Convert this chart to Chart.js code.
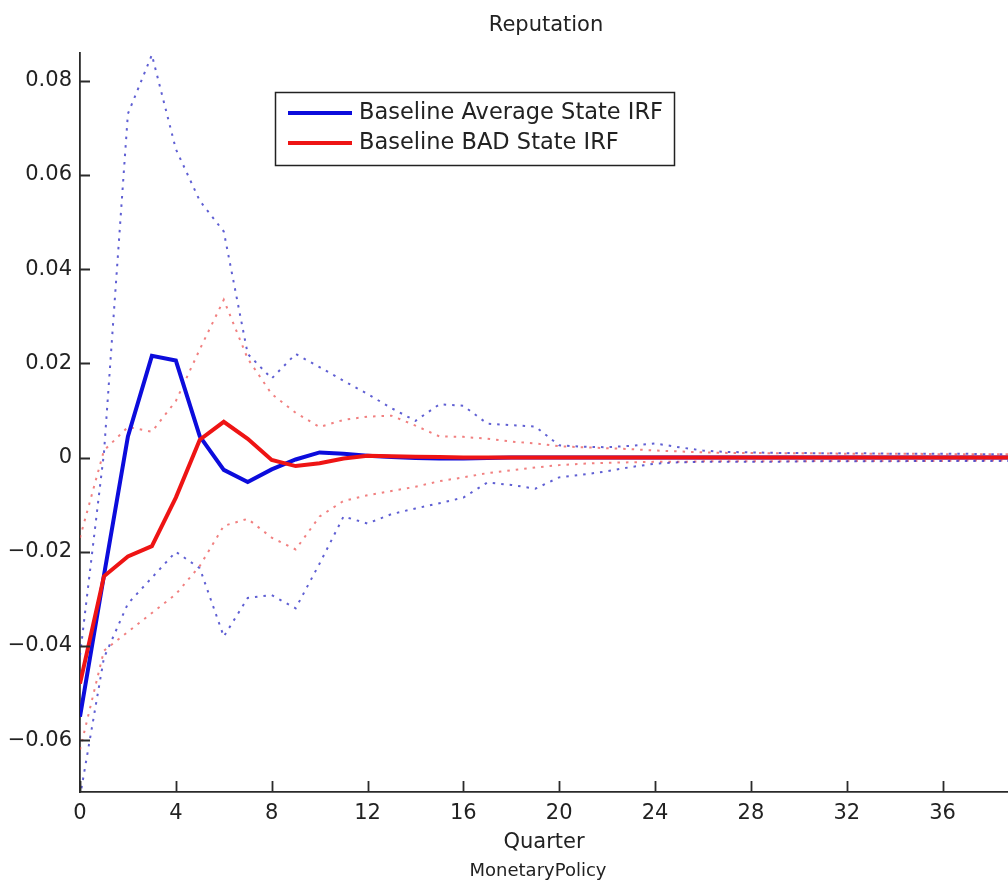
<!DOCTYPE html>
<html>
<head>
<meta charset="utf-8">
<title>Reputation</title>
<script src="https://cdn.jsdelivr.net/npm/chart.js@4.4.0/dist/chart.umd.min.js"></script>
<style>
  html, body { margin: 0; padding: 0; background: #fff; overflow: hidden; }
  #contenedor { position: relative; width: 1008px; height: 883px; }
</style>
</head>
<body>
<div id="contenedor"><canvas id="irfChart"></canvas></div>
<script>
// datos (trimestres 0..40)
var quarters = [0,1,2,3,4,5,6,7,8,9,10,11,12,13,14,15,16,17,18,19,20,
                21,22,23,24,25,26,27,28,29,30,31,32,33,34,35,36,37,38,39,40];

var avgIRF = [-0.055,-0.025,0.0045,0.0216,0.0206,0.0045,-0.0026,-0.0052,-0.0025,-0.0004,
              0.0011,0.0008,0.0004,0.0001,-0.0001,-0.0002,-0.0002,-0.0001,0,0,
              0,0,0,0,0,0,0,0,0,0,0,0,0,0,0,0,0,0,0,0,0];

var badIRF = [-0.048,-0.0252,-0.021,-0.0188,-0.0085,0.0038,0.0076,0.004,-0.0005,-0.0018,
              -0.0012,-0.0002,0.0004,0.0003,0.0002,0.0001,0,0,0,0,
              0,0,0,0,0,0,0,0,0,0,0,0,0,0,0,0,0,0,0,0,0];

var avgUpper = [-0.042,0.001,0.073,0.0855,0.0655,0.0545,0.048,0.022,0.0168,0.022,
                0.0192,0.0163,0.0135,0.0105,0.0078,0.0113,0.011,0.0072,0.0069,0.0066,
                0.0026,0.0023,0.0022,0.0025,0.003,0.0022,0.0015,0.0012,0.0011,0.001,
                0.001,0.0009,0.0009,0.0009,0.0008,0.0008,0.0008,0.0008,0.0007,0.0007,0.0007];

var avgLower = [-0.072,-0.0425,-0.031,-0.0255,-0.020,-0.0235,-0.038,-0.0298,-0.0292,-0.032,
                -0.0225,-0.0125,-0.014,-0.012,-0.0108,-0.0097,-0.0085,-0.0053,-0.0058,-0.0066,
                -0.0042,-0.0036,-0.0029,-0.002,-0.0013,-0.001,-0.0009,-0.0009,-0.0009,-0.0009,
                -0.0008,-0.0008,-0.0008,-0.0008,-0.0008,-0.0007,-0.0007,-0.0007,-0.0007,-0.0007,-0.0007];

var badUpper = [-0.017,0.0015,0.0065,0.0055,0.012,0.023,0.0335,0.021,0.0135,0.0095,
                0.0065,0.008,0.0087,0.0089,0.0068,0.0045,0.0044,0.004,0.0034,0.003,
                0.0024,0.0022,0.002,0.0018,0.0015,0.0013,0.0011,0.001,0.001,0.0009,
                0.0009,0.0009,0.0008,0.0008,0.0008,0.0008,0.0007,0.0007,0.0007,0.0007,0.0007];

var badLower = [-0.062,-0.041,-0.037,-0.033,-0.029,-0.023,-0.0145,-0.013,-0.017,-0.0195,
                -0.0125,-0.0092,-0.008,-0.0071,-0.0062,-0.005,-0.0042,-0.0033,-0.0027,-0.0021,
                -0.0016,-0.0013,-0.0011,-0.001,-0.0009,-0.0009,-0.0008,-0.0008,-0.0008,-0.0008,
                -0.0008,-0.0007,-0.0007,-0.0007,-0.0007,-0.0007,-0.0007,-0.0006,-0.0006,-0.0006,-0.0006];

var xTickValues = [0,4,8,12,16,20,24,28,32,36];
var yTickValues = [-0.06,-0.04,-0.02,0,0.02,0.04,0.06,0.08];

var tituloGrafica = 'Reputation';
var tituloEjeX = 'Quarter';
var subtituloGrafica = 'MonetaryPolicy';
var etiquetaAvg = 'Baseline Average State IRF';
var etiquetaBad = 'Baseline BAD State IRF';

var fuente = '"DejaVu Sans", sans-serif';
var colorTexto = '#222222';
var colorEjes = '#2a2a2a';
var azul = 'rgb(12,12,220)';
var rojo = 'rgb(238,20,20)';
var azulPunteado = 'rgba(55,55,200,0.8)';
var rojoPunteado = 'rgba(236,85,85,0.75)';

var ctx;
var myChart;

function serie(valores){
  return quarters.map(function(q, i){ return {x: q, y: valores[i]}; });
}

// ticks hacia adentro, titulo, subtitulo y leyenda estilo matlab
var pluginTextos = {
  id: 'textos',
  afterDraw: function(chart){
    var c = chart.ctx;
    var area = chart.chartArea;
    var xs = chart.scales.x;
    var ys = chart.scales.y;
    c.save();

    c.strokeStyle = colorEjes;
    c.lineWidth = 1.8;
    c.beginPath();
    ys.ticks.forEach(function(t){
      var py = Math.round(ys.getPixelForValue(t.value)) + 0.5;
      c.moveTo(area.left, py);
      c.lineTo(area.left + 10, py);
    });
    xs.ticks.forEach(function(t){
      var px = Math.round(xs.getPixelForValue(t.value)) + 0.5;
      c.moveTo(px, area.bottom);
      c.lineTo(px, area.bottom - 11);
    });
    c.stroke();

    var cx = (area.left + area.right) / 2;
    c.fillStyle = colorTexto;
    c.textAlign = 'center';
    c.textBaseline = 'middle';
    c.font = '21px ' + fuente;
    c.fillText(tituloGrafica, cx + 2, 26);
    c.font = '18px ' + fuente;
    c.fillText(subtituloGrafica, cx - 6, 871);

    // leyenda
    c.fillStyle = '#ffffff';
    c.fillRect(275, 92, 399, 73);
    c.strokeStyle = '#222222';
    c.lineWidth = 1.5;
    c.strokeRect(275.5, 92.5, 399, 73);
    var filas = [chart.data.datasets[1], chart.data.datasets[0]];
    var ys2 = [113, 143];
    c.textAlign = 'left';
    c.font = '22.5px ' + fuente;
    filas.forEach(function(ds, i){
      c.strokeStyle = ds.borderColor;
      c.lineWidth = 4;
      c.beginPath();
      c.moveTo(288, ys2[i]);
      c.lineTo(352, ys2[i]);
      c.stroke();
      c.fillStyle = colorTexto;
      c.fillText(ds.label, 359, ys2[i]);
    });
    c.restore();
  }
};

function graficar(){
  var bandas = {
    borderWidth: 2,
    borderDash: [2.5, 6],
    pointRadius: 0
  };

  var lineData = {
    datasets: [
      { label: etiquetaBad, data: serie(badIRF), borderColor: rojo, borderWidth: 4, pointRadius: 0, order: 0 },
      { label: etiquetaAvg, data: serie(avgIRF), borderColor: azul, borderWidth: 4, pointRadius: 0, order: 1 },
      Object.assign({ label: 'avg upper', data: serie(avgUpper), borderColor: azulPunteado, order: 2 }, bandas),
      Object.assign({ label: 'avg lower', data: serie(avgLower), borderColor: azulPunteado, order: 2 }, bandas),
      Object.assign({ label: 'bad upper', data: serie(badUpper), borderColor: rojoPunteado, order: 3 }, bandas),
      Object.assign({ label: 'bad lower', data: serie(badLower), borderColor: rojoPunteado, order: 3 }, bandas)
    ]
  };

  var lineOptions = {
    responsive: true,
    maintainAspectRatio: false,
    animation: false,
    layout: { padding: { top: 53, left: 0, right: 0, bottom: 0 } },
    plugins: {
      legend: { display: false },
      title: { display: false },
      tooltip: { enabled: false }
    },
    elements: { line: { tension: 0, fill: false } },
    scales: {
      x: {
        type: 'linear',
        min: 0,
        max: 38.73,
        grid: { display: false, drawTicks: false },
        border: { display: true, color: colorEjes, width: 1.8 },
        ticks: {
          color: colorTexto,
          font: { family: fuente, size: 21 },
          padding: 9,
          maxRotation: 0,
          callback: function(v){ return String(v); }
        },
        title: {
          display: true,
          text: tituloEjeX,
          color: colorTexto,
          font: { family: fuente, size: 21 },
          padding: { top: 0, bottom: 28 }
        },
        afterBuildTicks: function(scale){
          scale.ticks = xTickValues.map(function(v){ return {value: v}; });
        },
        afterFit: function(scale){ scale.height = 91; }
      },
      y: {
        type: 'linear',
        min: -0.071,
        max: 0.0859,
        grid: { display: false, drawTicks: false },
        border: { display: true, color: colorEjes, width: 1.8 },
        ticks: {
          color: colorTexto,
          font: { family: fuente, size: 21 },
          padding: 8,
          callback: function(v){
            if (Math.abs(v) < 1e-9) return '0';
            return (v < 0 ? '\u2212' : '') + Math.abs(v).toFixed(2);
          }
        },
        afterBuildTicks: function(scale){
          scale.ticks = yTickValues.map(function(v){ return {value: v}; });
        },
        afterFit: function(scale){ scale.width = 80; }
      }
    }
  };

  ctx = document.getElementById('irfChart').getContext('2d');
  myChart = new Chart(ctx, { type: 'line', data: lineData, options: lineOptions, plugins: [pluginTextos] });
}

graficar();
</script>
</body>
</html>
